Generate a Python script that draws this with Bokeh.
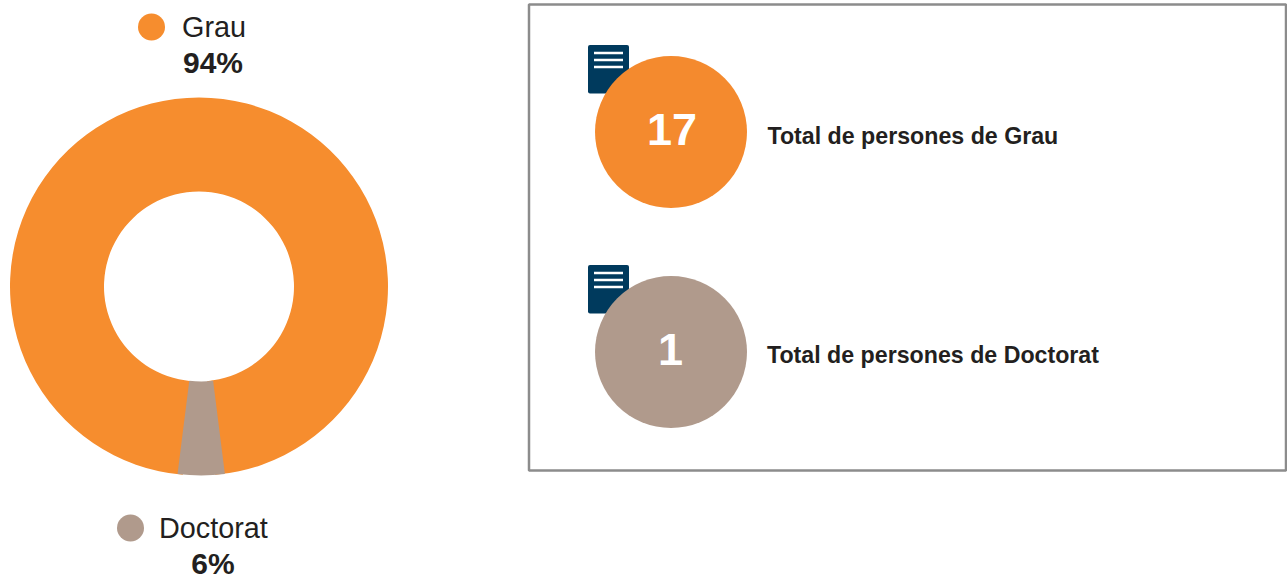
from math import pi
from bokeh.plotting import figure
from bokeh.embed import file_html
from bokeh.resources import INLINE
from bokeh.core.properties import value

# Data
categories = ["Grau", "Doctorat"]
percent_labels = ["94%", "6%"]
counts = ["17", "1"]
card_labels = ["Total de persones de Grau", "Total de persones de Doctorat"]
drawn_share = [96, 4]   # arc sizes
colors = ["#F68D2E", "#B09A8C"]
navy = "#003A5D"
frame = "#8C8C8C"
ink = "#231F20"
FONT = value("Liberation Sans")

p = figure(width=1287, height=579, x_range=(0, 1287), y_range=(579, 0),
           output_backend="svg", toolbar_location=None, min_border=0,
           outline_line_color=None, background_fill_color="white")
p.axis.visible = False
p.grid.visible = False

# Donut: the small slice is centred on the bottom of the ring
cx, cy, r0, r1 = 198.5, 286, 95, 189
span = drawn_share[1] / sum(drawn_share) * 2 * pi
bottom = 3 * pi / 2
slice_shift = 2.2
overlap = 0.04   # the large slice runs on under the small one, so no gap shows
p.annular_wedge([cx], [cy], r0, r1, [bottom + span / 2 - overlap],
                [bottom - span / 2 + overlap + 2 * pi],
                color=colors[0], line_color=None)
p.annular_wedge([cx + slice_shift], [cy], r0, r1, [bottom - span / 2], [bottom + span / 2],
                color=colors[1], line_color=None)

# Legend
p.scatter([151, 130], [26.5, 527.5], size=27, color=colors, line_color=None)
p.text([181.5, 158.5], [26.5, 527.5], text=categories, text_font=FONT, text_font_size="28.8px",
       text_color=ink, text_baseline="middle", text_align="left")
p.text([212.5, 212.5], [62, 562.5], text=percent_labels, text_font=FONT, text_font_size="30px",
       text_font_style="bold", text_color=ink, text_baseline="middle", text_align="center")

# Frame
p.quad(left=[528.5], right=[1285.5], top=[4], bottom=[470], fill_color=None,
       line_color=frame, line_width=2.5)

# Cards
icon_top = [44.5, 264.5]
for t in icon_top:
    p.quad(left=[587.5], right=[628.5], top=[t], bottom=[t + 48.5], fill_color=navy,
           line_color=None, border_radius=2)
    p.segment([593.5] * 3, [t + 8, t + 15, t + 22], [622.5] * 3, [t + 8, t + 15, t + 22],
              line_color="white", line_width=2.5)

circle_y = [131.5, 351.5]
p.scatter([670.5, 670.5], circle_y, size=152, color=["#F48A2E", colors[1]], line_color=None)
p.text([671.5, 670], [129, 349], text=counts, text_font=FONT, text_font_size="45px",
       text_font_style="bold", text_color="white", text_baseline="middle", text_align="center")
p.text([767, 766.5], [135, 354], text=card_labels, text_font=FONT, text_font_size="23.2px",
       text_font_style="bold", text_color=ink, text_baseline="middle", text_align="left")

open("out.html", "w").write(file_html(p, INLINE))
